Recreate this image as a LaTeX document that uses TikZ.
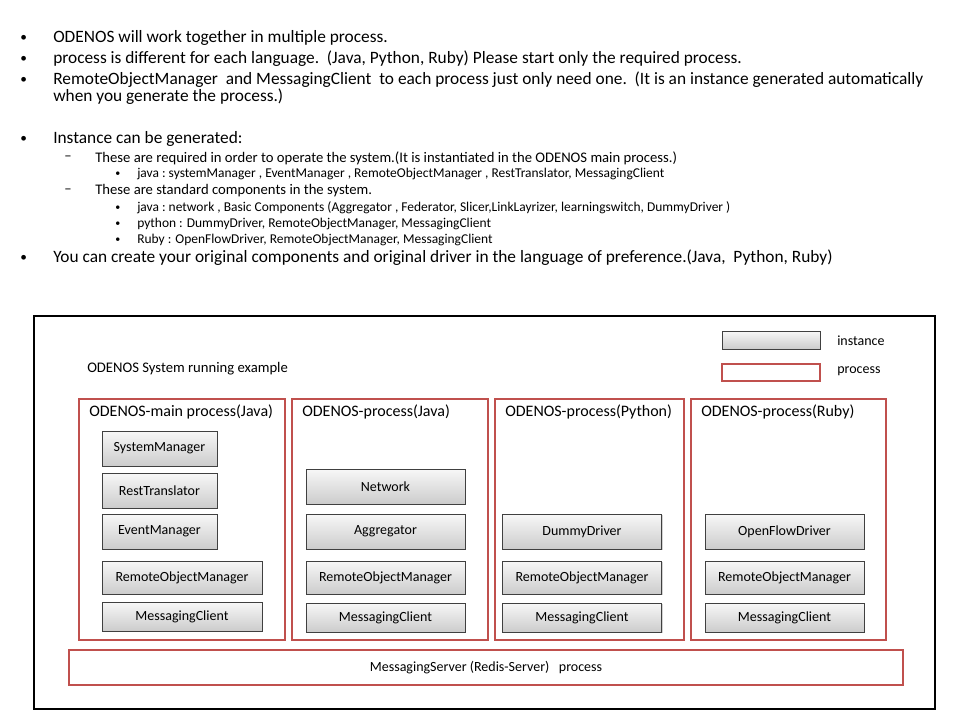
\documentclass[tikz,border=0pt]{standalone}
\usepackage{fontspec}
\setmainfont{Carlito}
\usetikzlibrary{shadows}
\definecolor{procred}{HTML}{C0504D}

\begin{document}
\begin{tikzpicture}[x=0.75pt,y=-0.75pt,
    txt/.style={anchor=west,inner sep=0pt,font=\fontsize{13}{15}\selectfont},
    subtxt/.style={anchor=west,inner sep=0pt,font=\fontsize{11}{13}\selectfont},
    subsubtxt/.style={anchor=west,inner sep=0pt,font=\fontsize{10.1}{12}\selectfont},
    dot/.style={anchor=west,inner sep=0pt,font=\fontsize{10}{12}\selectfont},
    smalldot/.style={anchor=west,inner sep=0pt,font=\fontsize{7.5}{9}\selectfont},
    proc/.style={draw=procred,line width=1.9pt,fill=white,inner sep=0pt,
        drop shadow={shadow xshift=0.8pt,shadow yshift=-0.8pt,opacity=0.25}},
    inst/.style={draw=black!75,line width=0.5pt,top color=gray!6,bottom color=gray!40,
        inner sep=0pt,font=\fontsize{10.5}{12}\selectfont,
        drop shadow={shadow xshift=1pt,shadow yshift=-1pt,opacity=0.35}},
    ptitle/.style={anchor=west,inner sep=0pt,font=\fontsize{12}{14}\selectfont},
    legtxt/.style={anchor=west,inner sep=0pt,font=\fontsize{10.5}{12}\selectfont}]

    \useasboundingbox (0,0) rectangle (960,720);
    \fill[white] (0,0) rectangle (960,720);

    % bullet text
    \node[dot] (d1) at (20,38) {•};
    \node[txt] (t1) at (53,38) {ODENOS will work together in multiple process.};
    \node[dot] (d2) at (20,59) {•};
    \node[txt] (t2) at (53,59) {process is different for each language.\ \ (Java, Python, Ruby) Please start only the required process.};
    \node[dot] (d3) at (20,80) {•};
    \node[txt] (t3) at (53,80) {\hbox to 652.5pt{RemoteObjectManager\ \ and MessagingClient\ \ to each process just only need one.\ \ (It is an instance generated automatically}};
    \node[txt] (t3b) at (53,97) {when you generate the process.)};

    \node[dot] (d4) at (20,139) {•};
    \node[txt] (t4) at (53,139) {Instance can be generated:};
    \node[subtxt] (e1) at (64,158) {–};
    \node[subtxt] (s1) at (95,158) {These are required in order to operate the system.(It is instantiated in the ODENOS main process.)};
    \node[smalldot] (f1) at (115,174) {•};
    \node[subsubtxt] (u1) at (137,174) {java :\ systemManager , EventManager\ , RemoteObjectManager\ , RestTranslator, MessagingClient};
    \node[subtxt] (e2) at (64,191) {–};
    \node[subtxt] (s2) at (95,191) {These are standard components in the system.};
    \node[smalldot] (f2) at (115,208) {•};
    \node[subsubtxt] (u2) at (137,208) {java :\ network\ ,\ Basic Components (Aggregator\ , Federator, Slicer,LinkLayrizer, learningswitch, DummyDriver )};
    \node[smalldot] (f3) at (115,224) {•};
    \node[subsubtxt] (u3) at (137,224) {python : DummyDriver, RemoteObjectManager,\ MessagingClient};
    \node[smalldot] (f4) at (115,240) {•};
    \node[subsubtxt] (u4) at (137,240) {Ruby : OpenFlowDriver, RemoteObjectManager,\ MessagingClient};
    \node[dot] (d5) at (20,258) {•};
    \node[txt] (t5) at (53,258) {You can create your original components and original driver in the language of preference.(Java,\ \ Python, Ruby)};

    % system frame
    \draw[line width=1.8pt] (34,316) rectangle (935,709);
    \node[ptitle,font=\fontsize{11}{13}\selectfont] (sys) at (87,369) {ODENOS System running example};

    % legend
    \node[inst,minimum width=73.5pt,minimum height=13.5pt] (leginst) at (771,340) {};
    \node[legtxt] (leginstt) at (837,341) {instance};
    \node[proc,minimum width=73.5pt,minimum height=12.75pt] (legproc) at (771,372.5) {};
    \node[legtxt] (legproct) at (837,371) {process};

    % processes
    \node[proc,minimum width=154.5pt,minimum height=180.75pt] (p1) at (182,519.5) {};
    \node[proc,minimum width=147pt,minimum height=180.75pt] (p2) at (390,519.5) {};
    \node[proc,minimum width=141.75pt,minimum height=180.75pt] (p3) at (589.5,519.5) {};
    \node[proc,minimum width=146.25pt,minimum height=180.75pt] (p4) at (788.5,519.5) {};
    \node[proc,minimum width=625.5pt,minimum height=26.25pt,font=\fontsize{10.5}{12}\selectfont] (srv) at (486,667.5) {MessagingServer (Redis-Server)\ \ \ process};

    \node[ptitle] (p1t) at (89,412) {ODENOS-main process(Java)};
    \node[ptitle] (p2t) at (302,412) {ODENOS-process(Java)};
    \node[ptitle] (p3t) at (505,412) {ODENOS-process(Python)};
    \node[ptitle] (p4t) at (701,412) {ODENOS-process(Ruby)};

    % main process
    \node[inst,minimum width=86.25pt,minimum height=26.25pt] (sm) at (159.5,448.5) {SystemManager};
    \node[inst,minimum width=86.25pt,minimum height=26.25pt] (rt) at (159.5,490.5) {RestTranslator};
    \node[inst,minimum width=86.25pt,minimum height=26.25pt] (em) at (159.5,531.5) {EventManager};
    \node[inst,minimum width=120pt,minimum height=24.75pt] (rom1) at (182,577.5) {RemoteObjectManager};
    \node[inst,minimum width=120pt,minimum height=21.75pt] (mc1) at (182,616.5) {MessagingClient};

    % java process
    \node[inst,minimum width=119.25pt,minimum height=26.25pt] (nw) at (385.5,486.5) {Network};
    \node[inst,minimum width=119.25pt,minimum height=26.25pt] (ag) at (385.5,531.5) {Aggregator};
    \node[inst,minimum width=119.25pt,minimum height=24.75pt] (rom2) at (385.5,577.5) {RemoteObjectManager};
    \node[inst,minimum width=119.25pt,minimum height=21.75pt] (mc2) at (385.5,617.5) {MessagingClient};

    % python process
    \node[inst,minimum width=119.25pt,minimum height=26.25pt] (dd) at (582,531.5) {DummyDriver};
    \node[inst,minimum width=119.25pt,minimum height=24.75pt] (rom3) at (582,577.5) {RemoteObjectManager};
    \node[inst,minimum width=119.25pt,minimum height=21.75pt] (mc3) at (582,617.5) {MessagingClient};

    % ruby process
    \node[inst,minimum width=119.25pt,minimum height=26.25pt] (ofd) at (784.5,531.5) {OpenFlowDriver};
    \node[inst,minimum width=119.25pt,minimum height=24.75pt] (rom4) at (784.5,577.5) {RemoteObjectManager};
    \node[inst,minimum width=119.25pt,minimum height=21.75pt] (mc4) at (784.5,617.5) {MessagingClient};
\end{tikzpicture}
\end{document}
